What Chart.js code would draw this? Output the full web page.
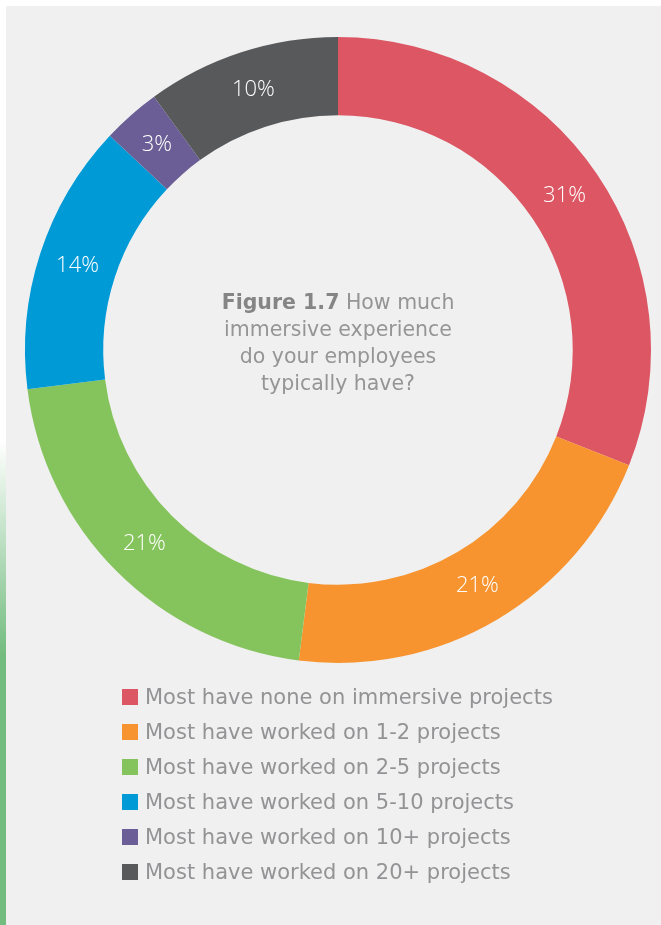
<!DOCTYPE html>
<html>
<head>
<meta charset="utf-8">
<script src="https://cdn.jsdelivr.net/npm/chart.js@4.4.1/dist/chart.umd.min.js"></script>
<style>
  html, body { margin: 0; padding: 0; background: #fff; }
  body { width: 661px; height: 925px; position: relative; overflow: hidden; font-family: "DejaVu Sans", sans-serif; }
  #stripe { position: absolute; left: 0; top: 0; width: 6px; height: 925px;
    background: linear-gradient(to bottom, #fff 0px, #fff 440px, #73bc7f 655px, #73bc7f 925px); }
  #panel { position: absolute; left: 6px; top: 6px; right: 0; bottom: 0; background: #f0f0f0; }
  #wrap { position: absolute; left: 0; top: 0; width: 655px; height: 680px; }
  #centerText { position: absolute; left: 162px; top: 283px; width: 340px; text-align: center;
    color: #959595; font-size: 20.5px; line-height: 27px; }
  #centerText b { color: #858585; font-weight: 700; }
  #legend { position: absolute; left: 116px; top: 674px; margin: 0; padding: 0; list-style: none; }
  #legend li { height: 35px; line-height: 35px; font-size: 21px; color: #939395; white-space: nowrap; }
  #legend span { display: inline-block; width: 16px; height: 16px; margin-right: 7px; vertical-align: -1px; }
</style>
</head>
<body>
<div id="stripe"></div>
<div id="panel">
  <div id="wrap"><canvas id="donut"></canvas></div>
  <div id="centerText"><b>Figure 1.7</b> How much<br>immersive experience<br>do your employees<br>typically have?</div>
  <ul id="legend"></ul>
</div>
<script>
let labels = ['Most have none on immersive projects','Most have worked on 1-2 projects','Most have worked on 2-5 projects','Most have worked on 5-10 projects','Most have worked on 10+ projects','Most have worked on 20+ projects']
let shares = [31,21,21,14,3,10]
let colors = ['#dc5664','#f7942f','#85c45d','#009bd7','#6b5e96','#58595b']

// percentage text in the middle of each ring segment
let ringLabels = {
  id: 'ringLabels',
  afterDatasetsDraw(chart) {
    let ctx = chart.ctx
    ctx.save()
    ctx.fillStyle = '#ffffff'
    ctx.font = '300 22px "Open Sans"'
    ctx.textAlign = 'center'
    ctx.textBaseline = 'middle'
    chart.getDatasetMeta(0).data.forEach((arc, i) => {
      let p = arc.getCenterPoint()
      ctx.fillText(chart.data.datasets[0].data[i] + '%', p.x, p.y)
    })
    ctx.restore()
  }
}

// html legend built from the chart data
let htmlLegend = {
  id: 'htmlLegend',
  afterUpdate(chart) {
    let ul = document.getElementById('legend')
    ul.innerHTML = ''
    chart.data.labels.forEach((l, i) => {
      let li = document.createElement('li')
      let box = document.createElement('span')
      box.style.background = chart.data.datasets[0].backgroundColor[i]
      li.appendChild(box)
      li.appendChild(document.createTextNode(l))
      ul.appendChild(li)
    })
  }
}

let ctx = document.querySelector('#donut').getContext('2d')

let donut = new Chart(ctx, {
  type: 'doughnut',
  data: {
    labels: labels,
    datasets: [{
      data: shares,
      backgroundColor: colors,
      borderWidth: 0,
      hoverOffset: 0
    }]
  },
  options: {
    responsive: true,
    maintainAspectRatio: false,
    animation: false,
    cutout: '75%',
    layout: { padding: { left: 19, right: 10, top: 31, bottom: 23 } },
    plugins: {
      legend: { display: false },
      tooltip: { enabled: false }
    }
  },
  plugins: [ringLabels, htmlLegend]
})
</script>
</body>
</html>
